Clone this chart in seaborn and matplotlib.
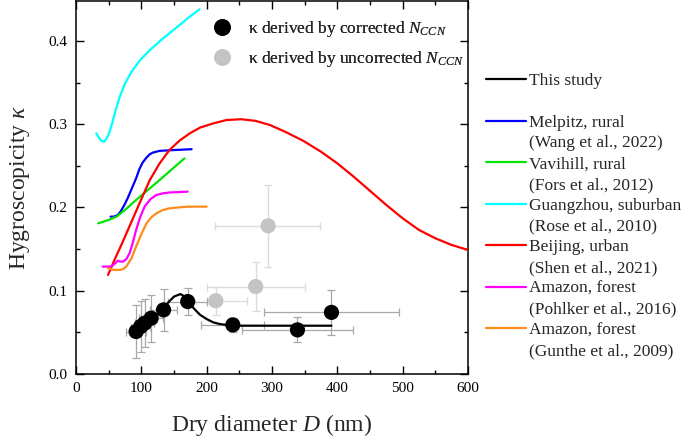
import numpy as np
import pandas as pd
import matplotlib
matplotlib.use("Agg")
import matplotlib.pyplot as plt
from matplotlib.lines import Line2D
from matplotlib.ticker import MultipleLocator
import seaborn as sns

# ---------------- data ----------------
# This study: kappa derived by corrected N_CCN
corr_D = [92, 99, 105, 115, 134, 171, 240, 339, 391]
corr_k = [0.051, 0.057, 0.061, 0.067, 0.077, 0.087, 0.059, 0.053, 0.074]
corr_Derr = [15, 15, 15, 18, 20, 30, 48, 85, 104]
corr_kerr = [0.032, 0.031, 0.029, 0.028, 0.025, 0.016, 0.008, 0.015, 0.027]

# kappa derived by uncorrected N_CCN
unc_D = [214, 275, 294]
unc_k = [0.088, 0.105, 0.178]
unc_Derr_lo = [14, 75, 81]
unc_Derr_hi = [47, 75, 80]
unc_kerr = [0.017, 0.029, 0.049]

# This study fitted curve
fit_D = [90, 100, 110, 120, 130, 140, 150, 160, 170, 180, 190, 200, 210, 220, 230, 240, 300, 391]
fit_k = [0.051, 0.057, 0.063, 0.069, 0.075, 0.085, 0.093, 0.096, 0.091, 0.079, 0.071, 0.066,
         0.062, 0.060, 0.059, 0.058, 0.058, 0.058]

# Literature curves
melpitz_D = [53, 58, 64, 69, 74, 79, 85, 92, 97, 102, 108, 113, 118, 128, 150, 177]
melpitz_k = [0.189, 0.189, 0.191, 0.196, 0.203, 0.211, 0.222, 0.235, 0.246, 0.254, 0.260,
             0.264, 0.266, 0.268, 0.269, 0.270]

vavihill_D = [34, 50, 62, 75, 92, 110, 128, 147, 166]
vavihill_k = [0.181, 0.185, 0.189, 0.197, 0.209, 0.221, 0.233, 0.246, 0.259]

guangzhou_D = [31, 35, 39, 43, 47, 51, 55, 60, 67, 75, 85, 98, 113, 130, 149, 169, 189]
guangzhou_k = [0.289, 0.284, 0.280, 0.279, 0.283, 0.290, 0.300, 0.315, 0.333, 0.349, 0.363,
               0.377, 0.389, 0.401, 0.413, 0.426, 0.438]

beijing_D = [49, 60, 70, 80, 90, 100, 113, 128, 143, 158, 174, 190, 210, 230, 253, 275, 297,
             320, 348, 375, 400, 425, 450, 475, 500, 525, 550, 575, 600]
beijing_k = [0.119, 0.139, 0.156, 0.174, 0.192, 0.210, 0.233, 0.253, 0.269, 0.280, 0.289,
             0.296, 0.301, 0.305, 0.306, 0.304, 0.299, 0.291, 0.280, 0.267, 0.253, 0.237,
             0.220, 0.203, 0.187, 0.173, 0.163, 0.155, 0.149]

pohlker_D = [41, 54, 60, 64, 68, 72, 77, 82, 87, 92, 98, 105, 114, 123, 133, 143, 171]
pohlker_k = [0.129, 0.129, 0.133, 0.136, 0.135, 0.135, 0.138, 0.145, 0.158, 0.173, 0.188,
             0.201, 0.210, 0.215, 0.217, 0.218, 0.219]

gunthe_D = [49, 58, 67, 72, 77, 85, 92, 100, 108, 115, 123, 133, 143, 170, 200]
gunthe_k = [0.127, 0.125, 0.125, 0.126, 0.129, 0.139, 0.153, 0.168, 0.181, 0.188, 0.193,
            0.197, 0.199, 0.201, 0.201]

legend_labels = [
    ("This study", None),
    ("Melpitz, rural", "(Wang et al., 2022)"),
    ("Vavihill, rural", "(Fors et al., 2012)"),
    ("Guangzhou, suburban", "(Rose et al., 2010)"),
    ("Beijing, urban", "(Shen et al., 2021)"),
    ("Amazon, forest", "(Pohlker et al., 2016)"),
    ("Amazon, forest", "(Gunthe et al., 2009)"),
]
curve_colors = ["black", "#0000ff", "#00e600", "#00ffff", "#ff0000", "#ff00ff", "#ff8c1a"]

# ---------------- style ----------------
sns.set_theme(style="ticks")
SERIF = ["Liberation Serif", "DejaVu Serif"]
plt.rcParams["font.family"] = SERIF
plt.rcParams["mathtext.fontset"] = "custom"
plt.rcParams["mathtext.rm"] = "Liberation Serif"
plt.rcParams["mathtext.it"] = "Liberation Serif:italic"
plt.rcParams["mathtext.bf"] = "Liberation Serif:bold"

fig = plt.figure(figsize=(6.85, 4.43), dpi=100)
ax = fig.add_axes([76 / 685, 1 - 374 / 443, 392 / 685, 373 / 443])

# error bars
ax.errorbar(unc_D, unc_k, xerr=[unc_Derr_lo, unc_Derr_hi], yerr=unc_kerr, fmt="none",
            ecolor="#dcdcdc", elinewidth=1.0, capsize=3, capthick=1.0, zorder=1)
ax.errorbar(corr_D, corr_k, xerr=corr_Derr, yerr=corr_kerr, fmt="none",
            ecolor="#a8a8a8", elinewidth=0.9, capsize=3, capthick=0.9, zorder=2)

# curves
curves = [
    (fit_D, fit_k), (melpitz_D, melpitz_k), (vavihill_D, vavihill_k),
    (guangzhou_D, guangzhou_k), (beijing_D, beijing_k), (pohlker_D, pohlker_k),
    (gunthe_D, gunthe_k),
]
line_handles = []
for (d, k), c in zip(curves, curve_colors):
    df = pd.DataFrame({"D": d, "k": k})
    sns.lineplot(data=df, x="D", y="k", ax=ax, color=c, lw=1.6, sort=False,
                 estimator=None, zorder=3)
    line_handles.append(Line2D([], [], color=c, lw=1.6))

# points
df_unc = pd.DataFrame({"D": unc_D, "k": unc_k})
df_cor = pd.DataFrame({"D": corr_D, "k": corr_k})
sns.scatterplot(data=df_unc, x="D", y="k", ax=ax, color="#c4c4c4", s=120,
                edgecolor="none", zorder=4)
sns.scatterplot(data=df_cor, x="D", y="k", ax=ax, color="black", s=120,
                edgecolor="none", zorder=5)

# axes
ax.set_xlim(0, 600)
ax.set_ylim(0, 0.448)
ax.xaxis.set_major_locator(MultipleLocator(100))
ax.xaxis.set_minor_locator(MultipleLocator(50))
ax.yaxis.set_major_locator(MultipleLocator(0.1))
ax.yaxis.set_minor_locator(MultipleLocator(0.05))
ax.tick_params(which="both", direction="in", top=True, right=True, labelsize=11,
               width=1.0, colors="black")
ax.tick_params(which="major", length=5.5, pad=6)
ax.tick_params(which="minor", length=2.8)
ax.set_yticks([0.0, 0.1, 0.2, 0.3, 0.4])
ax.set_yticklabels(["0.0", "0.1", "0.2", "0.3", "0.4"])
ax.set_xticks([0, 100, 200, 300, 400, 500, 600])
ax.set_xticklabels(["0", "100", "200", "300", "400", "500", "600"])
for t in ax.get_xticklabels() + ax.get_yticklabels():
    t.set_fontfamily(SERIF)
for sp in ax.spines.values():
    sp.set_linewidth(1.1)
    sp.set_color("black")
ax.set_xlabel("Dry diameter $D$ (nm)", fontsize=17, labelpad=12)
ax.set_ylabel("Hygroscopicity $κ$", fontsize=17, labelpad=12)

# marker legend inside
mk_handles = [
    Line2D([], [], ls="none", marker="o", ms=12, color="black", mec="none"),
    Line2D([], [], ls="none", marker="o", ms=12, color="#c4c4c4", mec="none"),
]
leg1 = ax.legend(mk_handles,
                 ["κ derived by corrected $N_{CCN}$", "κ derived by uncorrected $N_{CCN}$"],
                 loc="upper left", bbox_to_anchor=(205 / 685, 1 - 19 / 443),
                 bbox_transform=fig.transFigure, frameon=False, fontsize=12.5,
                 handletextpad=0.5, labelspacing=0.6, borderaxespad=0, borderpad=0)
ax.add_artist(leg1)

# curve legend outside
blank = Line2D([], [], color="none")
h, l = [line_handles[0], blank], ["This study", " "]
for hd, (a, b) in zip(line_handles[1:], legend_labels[1:]):
    h += [hd, blank]
    l += [a, b]
leg2 = fig.legend(h, l, loc="upper left", bbox_to_anchor=(486 / 685, 1 - 73 / 443),
                  frameon=False, fontsize=12.5, handlelength=2.3, handletextpad=0.2,
                  labelspacing=0.265, borderaxespad=0, borderpad=0)

fig.savefig("out.png", dpi=100)
